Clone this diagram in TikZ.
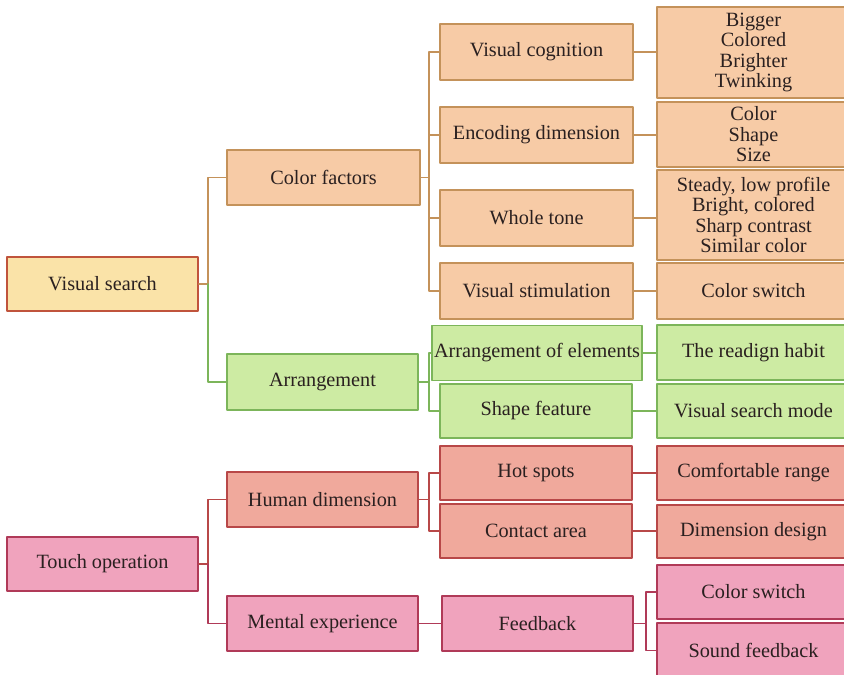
\documentclass[tikz,border=0pt]{standalone}
\usepackage{fontspec}
\setmainfont{Liberation Serif}
\usetikzlibrary{positioning}

\definecolor{yelfill}{HTML}{FAE3A8}
\definecolor{yeldraw}{HTML}{C0543C}
\definecolor{orgfill}{HTML}{F7CBA6}
\definecolor{orgdraw}{HTML}{C4925A}
\definecolor{grnfill}{HTML}{CDEBA3}
\definecolor{grndraw}{HTML}{7CB55A}
\definecolor{redfill}{HTML}{F0A99C}
\definecolor{reddraw}{HTML}{B84848}
\definecolor{pnkfill}{HTML}{F0A3BD}
\definecolor{pnkdraw}{HTML}{B03A58}
\definecolor{txt}{HTML}{2A2020}

\begin{document}
\begin{tikzpicture}[line cap=round,line join=round,x=0.03cm,y=-0.03cm,
  box/.style 2 args={rectangle,line width=1.6pt,text=txt,align=center,inner sep=0pt,
    minimum width=#1*0.03cm,minimum height=#2*0.03cm,
    font=\fontsize{17.3}{17.5}\selectfont},
  yel/.style={fill=yelfill,draw=yeldraw},
  org/.style={fill=orgfill,draw=orgdraw},
  grn/.style={fill=grnfill,draw=grndraw},
  red/.style={fill=redfill,draw=reddraw},
  pnk/.style={fill=pnkfill,draw=pnkdraw},
  orgline/.style={draw=orgdraw,line width=1.3pt},
  grnline/.style={draw=grndraw,line width=1.3pt},
  redline/.style={draw=reddraw,line width=1.3pt},
  pnkline/.style={draw=pnkdraw,line width=1.3pt}]
\useasboundingbox (0,0) rectangle (844,674);
\clip (0,0) rectangle (844,674);

% first level
\node[box={191}{54},yel] (vs) at (102.5,284) {Visual search};
\node[box={191}{54},pnk] (to) at (102.5,564) {Touch operation};

% second level
\node[box={193}{55},org] (cf) at (323.5,177.5) {Color factors};
\node[box={191}{56},grn] (arr) at (322.5,382) {Arrangement};
\node[box={191}{55},red] (hd) at (322.5,499.5) {Human dimension};
\node[box={191}{55},pnk] (me) at (322.5,623.5) {Mental experience};

% third level
\node[box={193}{56},org] (vc) at (536.5,52) {Visual cognition};
\node[box={193}{56},org] (ed) at (536.5,135) {Encoding dimension};
\node[box={193}{56},org] (wt) at (536.5,218) {Whole tone};
\node[box={193}{56},org] (vst) at (536.5,291) {Visual stimulation};
\node[box={210}{55},grn] (ae) at (537,353) {Arrangement of elements};
\node[box={192}{54},grn] (sf) at (536,411) {Shape feature};
\node[box={192}{54},red] (hs) at (536,473) {Hot spots};
\node[box={192}{54},red] (ca) at (536,531) {Contact area};
\node[box={191}{55},pnk] (fb) at (537.5,623.5) {Feedback};

% fourth level
\node[box={193}{91},org] (big) at (753.5,52.5) {Bigger\\Colored\\Brighter\\Twinking};
\node[box={193}{65},org] (css) at (753.5,134.5) {Color\\Shape\\Size};
\node[box={193}{90},org] (sty) at (753.5,215) {Steady, low profile\\Bright, colored\\Sharp contrast\\Similar color};
\node[box={193}{56},org] (csw) at (753.5,291) {Color switch};
\node[box={193}{55},grn] (rh) at (753.5,352.5) {The readign habit};
\node[box={193}{54},grn] (vsm) at (753.5,411) {Visual search mode};
\node[box={193}{54},red] (cr) at (753.5,473) {Comfortable range};
\node[box={193}{53},red] (dd) at (753.5,531.5) {Dimension design};
\node[box={193}{54},pnk] (csp) at (753.5,592) {Color switch};
\node[box={193}{55},pnk] (sfb) at (753.5,650.5) {Sound feedback};

% branches
\draw[orgline] (vs.east) -- ++(9,0) |- (cf.west);
\draw[grnline] (vs.east) ++(9,0) |- (arr.west);
\draw[redline] (to.east) -- ++(9,0) |- (hd.west);
\draw[pnkline] (to.east) ++(9,0) |- (me.west);

\foreach \n in {vc,ed,wt,vst}
  \draw[orgline] (cf.east) -- ++(8,0) |- (\n.west);
\foreach \n in {ae,sf}
  \draw[grnline] (arr.east) -- ++(10,0) |- (\n.west);
\foreach \n in {hs,ca}
  \draw[redline] (hd.east) -- ++(10,0) |- (\n.west);
\draw[pnkline] (me.east) -- (fb.west);
\foreach \n in {csp,sfb}
  \draw[pnkline] (fb.east) -- ++(12,0) |- (\n.west);

% straight links to the last column
\draw[orgline] (vc.east) -- (vc.east -| big.west);
\draw[orgline] (ed.east) -- (ed.east -| css.west);
\draw[orgline] (wt.east) -- (wt.east -| sty.west);
\draw[orgline] (vst.east) -- (vst.east -| csw.west);
\draw[grnline] (ae.east) -- (ae.east -| rh.west);
\draw[grnline] (sf.east) -- (sf.east -| vsm.west);
\draw[redline] (hs.east) -- (hs.east -| cr.west);
\draw[redline] (ca.east) -- (ca.east -| dd.west);
\end{tikzpicture}
\end{document}
